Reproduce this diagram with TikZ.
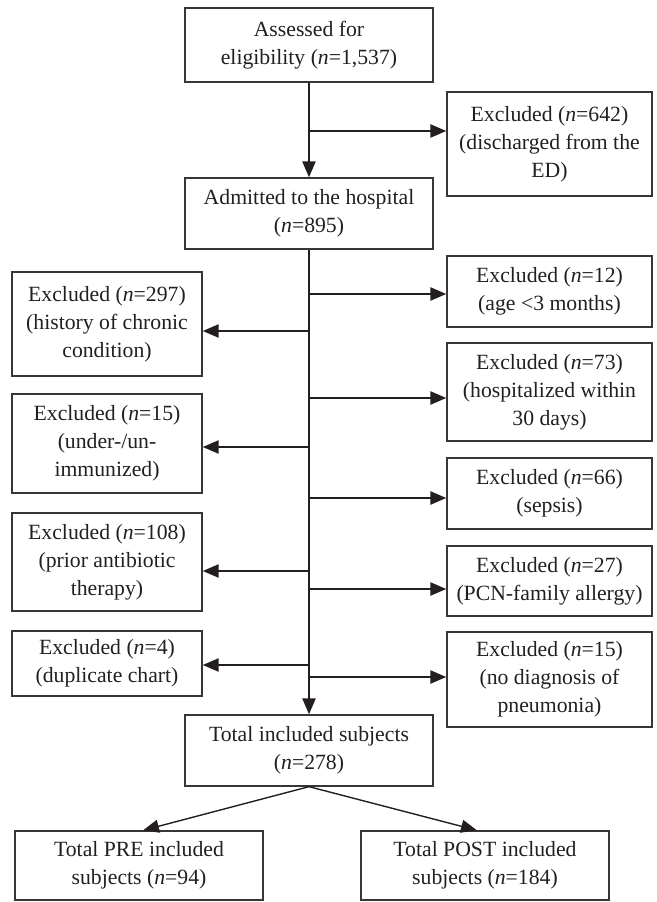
\documentclass[tikz,border=0pt]{standalone}
\usepackage{fontspec}
\setmainfont{Liberation Serif}
\usetikzlibrary{arrows.meta}
\definecolor{ink}{HTML}{231F20}
\begin{document}
\begin{tikzpicture}[x=1bp,y=-1bp,>={Triangle[length=16bp,width=13bp]},
    font=\fontsize{21.8}{28.3}\selectfont,text=ink,
    box/.style={draw=ink!90,line width=1.3bp,align=center,inner sep=0pt},
    mainbox/.style={box,minimum width=248bp},
    leftbox/.style={box,minimum width=190bp},
    rightbox/.style={box,minimum width=205bp},
    trunk/.style={draw=ink,line width=2.4bp},
    split/.style={draw=ink,line width=1.4bp}]
  \useasboundingbox (0,0) rectangle (657,902);
  % main column
  \node[mainbox,minimum height=74bp] (assess) at (309,45) {Assessed for\\eligibility (\textit{n}=1,537)};
  \node[mainbox,minimum height=71bp] (admit) at (309,213.5) {Admitted to the hospital\\(\textit{n}=895)};
  \node[mainbox,minimum height=71bp] (total) at (309,750.5) {Total included subjects\\(\textit{n}=278)};
  \node[mainbox,minimum height=69bp] (pre) at (139,865.5) {Total PRE included\\subjects (\textit{n}=94)};
  \node[mainbox,minimum height=69bp] (post) at (485,865.5) {Total POST included\\subjects (\textit{n}=184)};
  % exclusions, right
  \node[rightbox,minimum height=104bp] (ed) at (549.5,144) {Excluded (\textit{n}=642)\\(discharged from the\\ED)};
  \node[rightbox,minimum height=71bp] (age) at (549.5,291.5) {Excluded (\textit{n}=12)\\(age <3 months)};
  \node[rightbox,minimum height=98bp] (hosp) at (549.5,392) {Excluded (\textit{n}=73)\\(hospitalized within\\30 days)};
  \node[rightbox,minimum height=71bp] (sepsis) at (549.5,493.5) {Excluded (\textit{n}=66)\\(sepsis)};
  \node[rightbox,minimum height=70bp] (pcn) at (549.5,581) {Excluded (\textit{n}=27)\\(PCN-family allergy)};
  \node[rightbox,minimum height=95bp] (pneu) at (549.5,679.5) {Excluded (\textit{n}=15)\\(no diagnosis of\\pneumonia)};
  % exclusions, left
  \node[leftbox,minimum height=104bp] (chronic) at (107,324) {Excluded (\textit{n}=297)\\(history of chronic\\condition)};
  \node[leftbox,minimum height=99bp] (immun) at (107,443.5) {Excluded (\textit{n}=15)\\(under-/un-\\immunized)};
  \node[leftbox,minimum height=98bp] (abx) at (107,562) {Excluded (\textit{n}=108)\\(prior antibiotic\\therapy)};
  \node[leftbox,minimum height=65bp] (dup) at (107,663.5) {Excluded (\textit{n}=4)\\(duplicate chart)};
  % trunk
  \draw[trunk,->] (assess.south) -- (admit.north);
  \draw[trunk,->] (admit.south) -- (total.north);
  \coordinate (t0) at (assess.south |- 0,131);
  \coordinate (r1) at (admit.south |- 0,294);
  \coordinate (l1) at (admit.south |- 0,331);
  \coordinate (r2) at (admit.south |- 0,398);
  \coordinate (l2) at (admit.south |- 0,447);
  \coordinate (r3) at (admit.south |- 0,498);
  \coordinate (l3) at (admit.south |- 0,571);
  \coordinate (r4) at (admit.south |- 0,589);
  \coordinate (l4) at (admit.south |- 0,665);
  \coordinate (r5) at (admit.south |- 0,677);
  \draw[trunk,->] (t0) -- (t0 -| ed.west);
  \draw[trunk,->] (r1) -- (r1 -| age.west);
  \draw[trunk,->] (r2) -- (r2 -| hosp.west);
  \draw[trunk,->] (r3) -- (r3 -| sepsis.west);
  \draw[trunk,->] (r4) -- (r4 -| pcn.west);
  \draw[trunk,->] (r5) -- (r5 -| pneu.west);
  \draw[trunk,->] (l1) -- (l1 -| chronic.east);
  \draw[trunk,->] (l2) -- (l2 -| immun.east);
  \draw[trunk,->] (l3) -- (l3 -| abx.east);
  \draw[trunk,->] (l4) -- (l4 -| dup.east);
  % split
  \draw[split,->] (total.south) -- ([xshift=4bp]pre.north);
  \draw[split,->] (total.south) -- ([xshift=-8bp]post.north);
\end{tikzpicture}
\end{document}
